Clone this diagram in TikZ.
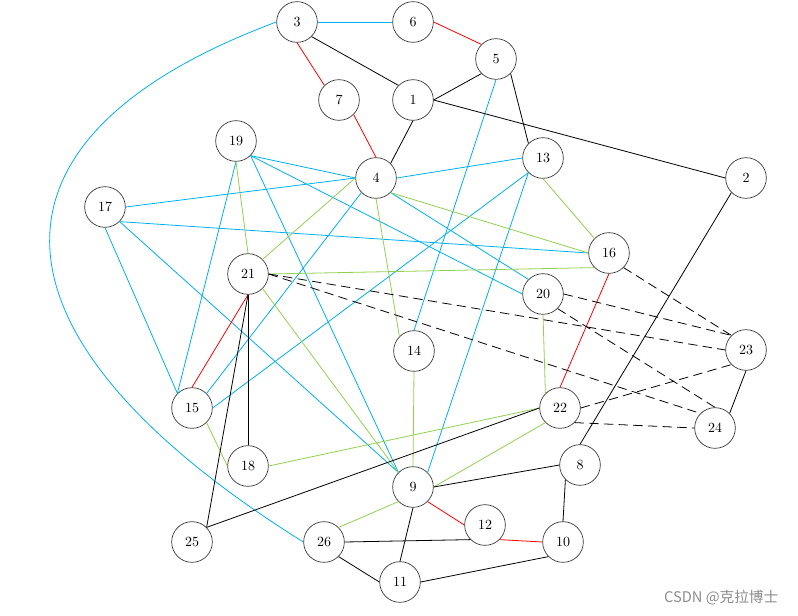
\documentclass[tikz,border=0pt]{standalone}
\usepackage{fontspec}
\newfontfamily\cjk{Noto Sans CJK SC}
\definecolor{eblue}{RGB}{0,176,240}
\definecolor{egreen}{RGB}{146,208,80}
\definecolor{ered}{RGB}{255,0,0}
\begin{document}
\begin{tikzpicture}[x=0.75pt,y=-0.75pt,
  vtx/.style={circle,draw=black!80,line width=0.5pt,minimum size=30.5pt,inner sep=0pt,font=\fontsize{10.5}{12}\selectfont},
  eb/.style={eblue,line width=0.6pt},
  eg/.style={egreen,line width=0.6pt},
  er/.style={ered,line width=0.6pt},
  ek/.style={black,line width=0.6pt},
  ed/.style={black,line width=0.6pt,dash pattern=on 7pt off 4pt}]
\useasboundingbox (0,0) rectangle (798,616);
\node[vtx] (n3) at (297,22) {3};
\node[vtx] (n6) at (413,22) {6};
\node[vtx] (n5) at (496,59) {5};
\node[vtx] (n7) at (339,100) {7};
\node[vtx] (n1) at (413,100) {1};
\node[vtx] (n19) at (236,141) {19};
\node[vtx] (n4) at (376,178) {4};
\node[vtx] (n13) at (543,158) {13};
\node[vtx] (n2) at (746,178) {2};
\node[vtx] (n17) at (105,207) {17};
\node[vtx] (n16) at (609,253) {16};
\node[vtx] (n21) at (248,274) {21};
\node[vtx] (n20) at (543,294) {20};
\node[vtx] (n14) at (414,351) {14};
\node[vtx] (n23) at (746,350) {23};
\node[vtx] (n15) at (192,408) {15};
\node[vtx] (n22) at (560,408) {22};
\node[vtx] (n24) at (715,428) {24};
\node[vtx] (n18) at (248,466) {18};
\node[vtx] (n8) at (580,465) {8};
\node[vtx] (n9) at (413,487) {9};
\node[vtx] (n12) at (485,525) {12};
\node[vtx] (n25) at (192,542) {25};
\node[vtx] (n26) at (324,542) {26};
\node[vtx] (n10) at (563,542) {10};
\node[vtx] (n11) at (400,582) {11};
% blue
\draw[eb] (n3.east) -- (n6.west);
\draw[eb] (n5.south) -- (n14.north);
\draw[eb] (n19.south east) -- (n4.west);
\draw[eb] (n19.south east) -- (n20.west);
\draw[eb] (n19.south east) -- (n9.north west);
\draw[eb] (n19.south) -- (n15.north west);
\draw[eb] (n17.east) -- (n4.west);
\draw[eb] (n17.south east) -- (n16.west);
\draw[eb] (n17.south) -- (n15.north west);
\draw[eb] (n17.south east) -- (n9.north west);
\draw[eb] (n4.east) -- (n13.west);
\draw[eb] (n4.south west) -- (n15.north east);
\draw[eb] (n4.south east) -- (n20.north west);
\draw[eb] (n13.south west) -- (n15.east);
\draw[eb] (n13.south west) -- (n9.north east);
\draw[eb] (n3.west) .. controls (-40,140) and (-20,340) .. (n26.west);
% green
\draw[eg] (n19.south) -- (n21.north);
\draw[eg] (n4.west) -- (n21.north east);
\draw[eg] (n4.south east) -- (n16.west);
\draw[eg] (n4.south) -- (n14.north west);
\draw[eg] (n13.south) -- (n16.north west);
\draw[eg] (n16.south west) -- (n21.east);
\draw[eg] (n21.south east) -- (n9.north west);
\draw[eg] (n20.south) -- (n22.north west);
\draw[eg] (n22.south west) -- (n9.east);
\draw[eg] (n22.west) -- (n18.east);
\draw[eg] (n15.south east) -- (n18.west);
\draw[eg] (n14.south) -- (n9.north);
\draw[eg] (n9.south west) -- (n26.north east);
% red
\draw[er] (n3.south) -- (n7.north west);
\draw[er] (n6.east) -- (n5.north west);
\draw[er] (n7.south east) -- (n4.north);
\draw[er] (n16.south) -- (n22.north);
\draw[er] (n21.south) -- (n15.north);
\draw[er] (n9.south east) -- (n12.west);
\draw[er] (n12.south east) -- (n10.west);
% black
\draw[ek] (n3.south east) -- (n1.north west);
\draw[ek] (n5.south west) -- (n1.east);
\draw[ek] (n5.south east) -- (n13.north west);
\draw[ek] (n1.south) -- (n4.north east);
\draw[ek] (n1.east) -- (n2.west);
\draw[ek] (n2.south west) -- (n8.north);
\draw[ek] (n21.south) -- (n18.north);
\draw[ek] (n21.south) -- (n25.north east);
\draw[ek] (n22.west) -- (n25.north east);
\draw[ek] (n23.south) -- (n24.north east);
\draw[ek] (n9.east) -- (n8.west);
\draw[ek] (n9.south) -- (n11.north);
\draw[ek] (n8.south west) -- (n10.north);
\draw[ek] (n26.east) -- (n12.south west);
\draw[ek] (n26.south east) -- (n11.west);
\draw[ek] (n11.east) -- (n10.south west);
% dashed
\draw[ed] (n21.east) -- (n23.west);
\draw[ed] (n21.east) -- (n24.north west);
\draw[ed] (n16.south east) -- (n23.north west);
\draw[ed] (n20.east) -- (n23.north west);
\draw[ed] (n20.south east) -- (n24.north);
\draw[ed] (n22.east) -- (n23.south west);
\draw[ed] (n22.south east) -- (n24.west);
\node[text=black!45,font=\cjk\fontsize{11}{13}\selectfont,anchor=east] (wm) at (783,598) {CSDN @克拉博士};
\end{tikzpicture}
\end{document}
